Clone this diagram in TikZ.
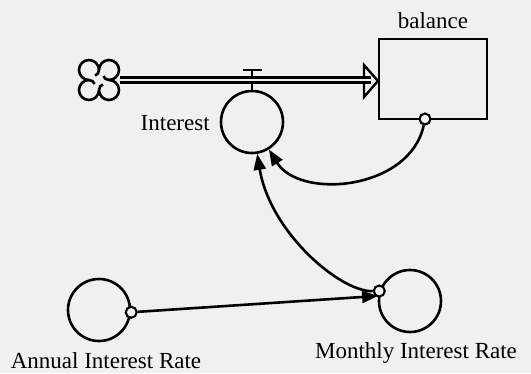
\documentclass[tikz,border=0pt]{standalone}
\usepackage{fontspec}
\setmainfont{Liberation Serif}
\usetikzlibrary{arrows.meta}
\definecolor{bg}{RGB}{240,240,240}
\begin{document}
\begin{tikzpicture}[x=1pt,y=-1pt,
  line width=2.6pt,
  aux/.style={circle,draw,minimum size=62pt,inner sep=0pt},
  tiny/.style={circle,draw,fill=bg,minimum size=11pt,inner sep=0pt,line width=2.1pt},
  lbl/.style={font=\fontsize{23}{27}\selectfont,inner sep=0pt},
  conn/.style={-{Triangle[length=16pt,width=12pt]},line width=2.6pt},
  pipe/.style={double=bg,double distance=2.8pt,line width=2.5pt},
  stockbox/.style={draw,rectangle,minimum width=108pt,minimum height=80pt,inner sep=0pt},
]
\fill[bg] (0,0) rectangle (531,373);
\useasboundingbox (0,0) rectangle (531,373);

% stock
\node[stockbox] (box) at (433,79) {};
\node[lbl,anchor=base] (tBal) at (433,28) {balance};

% cloud (source)
\node[circle,minimum size=40pt,inner sep=0pt] (cloud) at (99,80) {};
\foreach \p in {45,135,225,315}{
  \draw (cloud.center) ++(\p:14.14) ++(\p-135:10) arc[start angle=\p-135, end angle=\p+135, radius=10];
}
\foreach \t in {0,90,180,270}{
  \draw (cloud.center) ++(\t:10) arc[start angle=\t+90, delta angle=70, radius=6];
}

% flow pipe with hollow arrow
\coordinate (pipeEnd) at (371,80);
\draw[fill=bg,line width=2.4pt] (364,65) -- (378,81) -- (364,97) -- cycle;
\draw[pipe] (cloud.east) -- (pipeEnd);

% valve and Interest converter
\node[aux] (interest) at (252,122) {};
\coordinate (valveTop) at (252,70);
\coordinate (valveLow) at (252,83);
\draw (valveTop) -- ++(0,7);
\draw ([xshift=-9pt]valveTop) -- ([xshift=10pt]valveTop);
\draw (valveLow) -- (interest.north);
\node[lbl,anchor=base east] (tInt) at (211,130) {Interest};

% other converters
\node[aux] (annual) at (99,310) {};
\node[aux] (monthly) at (410,301) {};
\node[lbl,anchor=base] (tAnn) at (106,368) {Annual Interest Rate};
\node[lbl,anchor=base] (tMon) at (416,358) {Monthly Interest Rate};

% connector ports
\node[tiny] (bout) at (425,119) {};
\node[tiny] (aout) at (annual.-4) {};
\node[tiny] (mout) at (monthly.162) {};

% connectors
\draw[conn] (bout) .. controls (410,190) and (300,200) .. (interest);
\draw[conn] (mout) .. controls (340,292) and (270,232) .. (interest);
\draw[conn] (aout) -- (monthly.171);
\end{tikzpicture}
\end{document}
